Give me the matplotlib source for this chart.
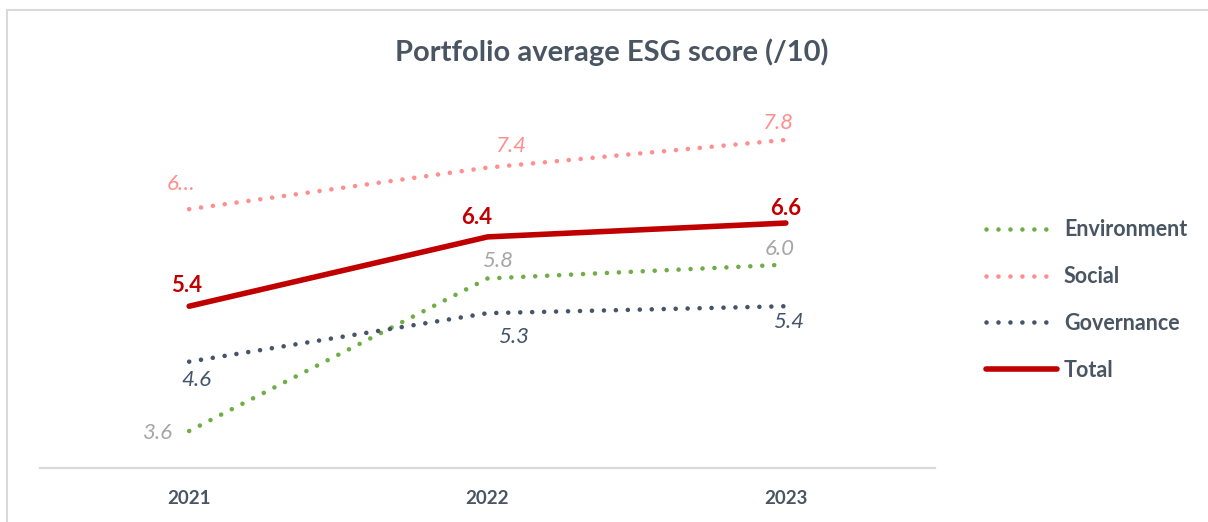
import matplotlib
matplotlib.use("Agg")
import matplotlib.pyplot as plt
from matplotlib.lines import Line2D

plt.rcParams['font.family'] = ['Lato', 'DejaVu Sans']

years = ["2021", "2022", "2023"]
environment = [3.6, 5.8, 6.0]
social = [6.8, 7.4, 7.8]
governance = [4.6, 5.3, 5.4]
total = [5.4, 6.4, 6.6]
social_labels = ["6…", "7.4", "7.8"]

C_ENV = "#70ad47"
C_SOC = "#ff8f8f"
C_GOV = "#44546a"
C_TOT = "#c00000"
C_TXT = "#4a5563"
C_ENV_LBL = "#a6a6a6"

W, H = 1208, 522
fig = plt.figure(figsize=(W / 100, H / 100), dpi=100)
fig.patch.set_facecolor("white")

left, right, bottom, top = 40 / W, 935 / W, 1 - 468 / H, 1 - 126 / H
ax = fig.add_axes([left, bottom, right - left, top - bottom])
x = list(range(len(years)))

dot = (0, (0.01, 2.6))
lw_dot = 3.3
ax.plot(x, environment, color=C_ENV, lw=lw_dot, linestyle=dot, dash_capstyle='round', label="Environment")
ax.plot(x, social, color=C_SOC, lw=lw_dot, linestyle=dot, dash_capstyle='round', label="Social")
ax.plot(x, governance, color=C_GOV, lw=lw_dot, linestyle=dot, dash_capstyle='round', label="Governance")
ax.plot(x, total, color=C_TOT, lw=4.0, solid_capstyle='round', label="Total")

ax.set_xlim(-0.5, 2.5)
ax.set_ylim(3.066, 8.0)
ax.set_xticks(x)
ax.set_xticklabels(years, fontsize=13.5, fontweight='bold', color=C_TXT)
ax.tick_params(axis='x', length=0, pad=16)
ax.set_yticks([])
for s in ["top", "right", "left"]:
    ax.spines[s].set_visible(False)
ax.spines["bottom"].set_color("#d9d9d9")
ax.spines["bottom"].set_linewidth(1.6)

def lab(xi, yi, txt, dx, dy, color, bold=False, italic=True):
    ax.annotate(txt, (xi, yi), xytext=(dx, dy), textcoords='offset pixels',
                ha='center', va='center', fontsize=16, color=color,
                fontweight='bold' if bold else 'normal',
                fontstyle='italic' if italic else 'normal')

tot_off = [(-3, 21), (-11, 19), (0, 15)]
soc_off = [(-8, 25), (24, 22), (-7, 17)]
env_off = [(-31, -2), (10, 17), (-6, 16)]
gov_off = [(7, -18), (26, -24), (3, -16)]
for i in x:
    lab(i, total[i], f"{total[i]:.1f}", *tot_off[i], C_TOT, bold=True, italic=False)
    lab(i, social[i], social_labels[i], *soc_off[i], C_SOC)
    lab(i, environment[i], f"{environment[i]:.1f}", *env_off[i], C_ENV_LBL)
    lab(i, governance[i], f"{governance[i]:.1f}", *gov_off[i], C_GOV)

leg = fig.legend(loc='center left', bbox_to_anchor=(967 / W, 1 - 300 / H), frameon=False,
                 fontsize=15.5, handlelength=3.3, handletextpad=0.3, labelspacing=1.2)
for t in leg.get_texts():
    t.set_color(C_TXT)
    t.set_fontweight('bold')

fig.text(612 / W, 1 - 52 / H, "Portfolio average ESG score (/10)", ha='center', va='center',
         fontsize=21, fontweight='bold', color=C_TXT)

# chart border (left and top visible)
fig.add_artist(Line2D([7 / W, 7 / W], [0, 1 - 10 / H], transform=fig.transFigure, color="#d9d9d9", lw=1.5))
fig.add_artist(Line2D([7 / W, 1], [1 - 10 / H, 1 - 10 / H], transform=fig.transFigure, color="#d9d9d9", lw=1.5))

fig.savefig("out.png", dpi=100, facecolor="white")
